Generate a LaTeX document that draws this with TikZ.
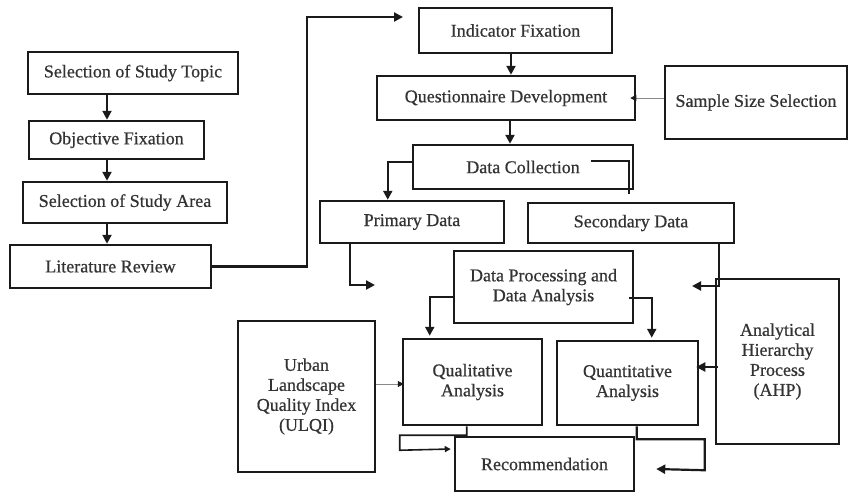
\documentclass[tikz,border=0pt]{standalone}
\usepackage{fontspec}
\setmainfont{Liberation Serif}
\newfontfamily\boxfont{Liberation Serif}[FakeBold=0.6]
\usetikzlibrary{arrows.meta,calc}
\definecolor{ink}{HTML}{1A1A1A}
\definecolor{txt}{HTML}{333333}
\definecolor{thinline}{HTML}{8A8A8A}
\begin{document}
\begin{tikzpicture}[x=1pt,y=-1pt,
  box/.style={draw=ink, line width=2.5pt, inner sep=0pt, align=center,
    text=txt, font=\boxfont\fontsize{18pt}{20pt}\selectfont},
  link/.style={draw=ink, line width=2.2pt},
  arr/.style={link, -{Triangle[length=9pt,width=9pt]}},
  smallarr/.style={draw=ink, line width=1.6pt, -{Triangle[length=6pt,width=6pt]}},
  thinarr/.style={draw=thinline, line width=1pt, -{Triangle[length=6pt,width=6pt,color=ink,fill=ink]}}]
\useasboundingbox (0,0) rectangle (849,493);
\fill[white] (0,0) rectangle (849,493);

% left column
\node[box, minimum width=210pt, minimum height=42pt] (topic) at (133,73) {Selection of Study Topic};
\node[box, minimum width=175pt, minimum height=38pt] (obj) at (116.5,140) {Objective Fixation};
\node[box, minimum width=204pt, minimum height=41pt] (area) at (125,202.5) {Selection of Study Area};
\node[box, minimum width=201pt, minimum height=43pt] (lit) at (110.5,266.5) {Literature Review};

% upper chain
\node[box, minimum width=193pt, minimum height=45pt] (ind) at (515.5,30.5) {Indicator Fixation};
\node[box, minimum width=258pt, minimum height=44pt] (quest) at (506,98) {Questionnaire Development};
\node[box, minimum width=182pt, minimum height=73pt] (sample) at (756,102.5) {Sample Size Selection};
\node[box, minimum width=220pt, minimum height=44pt] (dc) at (523,167) {Data Collection};
\node[box, minimum width=184pt, minimum height=42pt] (prim) at (412,222) {Primary Data};
\node[box, minimum width=206pt, minimum height=40pt] (sec) at (631,223) {Secondary Data};

% analysis stage
\node[box, minimum width=179pt, minimum height=72pt] (dp) at (543.5,287) {Data Processing and\\Data Analysis};
\node[box, minimum width=137pt, minimum height=151pt] (ulqi) at (306.5,396.5) {Urban\\Landscape\\Quality Index\\(ULQI)};
\node[box, minimum width=139pt, minimum height=86pt] (qual) at (472.5,382) {Qualitative\\Analysis};
\node[box, minimum width=141pt, minimum height=84pt] (quant) at (627.5,383) {Quantitative\\Analysis};
\node[box, minimum width=123pt, minimum height=165pt] (ahp) at (777.5,361.5) {Analytical\\Hierarchy\\Process\\(AHP)};
\node[box, minimum width=179pt, minimum height=54pt] (rec) at (544.5,464) {Recommendation};

% helper points
\coordinate (lcol) at (107,0);
\coordinate (qcolA) at (511,0);
\coordinate (qcolB) at (510,0);
\coordinate (litup) at (307,17);
\coordinate (indin) at (403,17);
\coordinate (primout) at (375,285);
\coordinate (secout) at (692,286);

% left column arrows
\draw[arr] (topic.south -| lcol) -- (obj.north -| lcol);
\draw[arr] (obj.south -| lcol) -- (area.north -| lcol);
\draw[arr] (area.south -| lcol) -- (lit.north -| lcol);
\draw[arr] (lit.east) -| (litup) -- (indin);

% upper chain arrows
\draw[arr] (ind.south -| qcolA) -- (quest.north -| qcolA);
\draw[arr] (quest.south -| qcolB) -- (dc.north -| qcolB);
\draw[thinarr] (sample.west |- quest.east) -- ($(quest.east)+(-6,0)$);
\draw[arr] ($(dc.north west)+(0,18)$) -| ($(prim.north west)+(69,0)$);
\draw[link] ($(dc.north east)+(-43,17)$) -| ($(dc.south east)+(-5,4)$);
\draw[arr] ($(prim.south west)+(31,0)$) |- (primout);
\draw[arr] ($(sec.south east)+(-16,0)$) |- (secout);

% analysis arrows
\draw[arr] ($(dp.north west)+(0,47)$) -| ($(qual.north west)+(28,-2)$);
\draw[arr] ($(dp.north east)+(-5,48)$) -| ($(quant.north west)+(96,-2)$);
\draw[thinarr] ($(ulqi.east)+(0,-12.5)$) -- ($(qual.west)+(2,2)$);
\draw[arr] ($(ahp.west)+(3,5.5)$) -- ($(quant.east)+(-3,-16)$);
\draw[smallarr] ($(qual.south west)+(65,0)$) -- ++(0,9) -- ++(-67,0) -- ++(0,15) -- ($(rec.west)+(-3,-15)$);
\draw[arr] ($(quant.south west)+(81,0)$) -- ++(0,13) -- ++(68,0) -- ++(0,31) -- ($(rec.east)+(21,5)$);
\end{tikzpicture}
\end{document}
